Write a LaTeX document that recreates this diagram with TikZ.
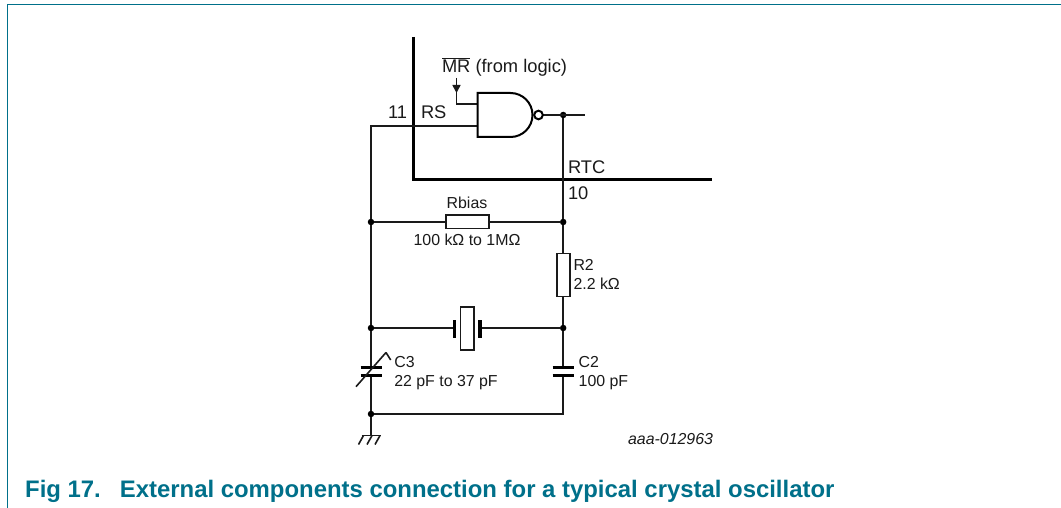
\documentclass[tikz,border=0pt]{standalone}
\usepackage{fontspec}
\setmainfont{Liberation Sans}
\usetikzlibrary{arrows.meta}
\definecolor{teal1}{HTML}{00708A}
\definecolor{ink}{HTML}{1A1A1A}
\tikzset{
  wire/.style={draw=ink,line width=1.6pt},
  thick bus/.style={draw=black,line width=2.8pt},
  comp/.style={draw=ink,line width=1.6pt,fill=white,minimum width=0pt},
  plate/.style={draw=black,line width=3.2pt},
  lbl/.style={anchor=base west,inner sep=0pt,outer sep=0pt,font=\fontsize{15.9}{18}\selectfont,text=ink},
  biglbl/.style={lbl,font=\fontsize{18.3}{20}\selectfont},
  clbl/.style={lbl,anchor=base},
  junction/.style={circle,fill=black,inner sep=0pt,minimum size=6.5pt},
}
\begin{document}
\begin{tikzpicture}[x=1pt,y=-1pt]
\useasboundingbox (0,0) rectangle (1061,508);
% frame
\coordinate (fa) at (7.4,508); \coordinate (fb) at (7.4,4.5); \coordinate (fc) at (1061,4.5);
\draw[teal1,line width=1.3pt] (fa) -- (fb) -- (fc);
% bus
\coordinate (ba) at (413.5,37); \coordinate (bb) at (413.5,179.5); \coordinate (bc) at (712,179.5);
\draw[thick bus,miter limit=10] (ba) -- (bb) -- (bc);
% junctions
\node[junction] (jo) at (563.2,115) {};
\node[junction] (jbl) at (371,222) {};
\node[junction] (jbr) at (563.2,222) {};
\node[junction] (jxl) at (371,328) {};
\node[junction] (jxr) at (563.2,328) {};
\node[junction] (jgl) at (371,414) {};
\coordinate (gbr) at (563.2,414);
\coordinate (rsw) at (371,126);
\coordinate (rse) at (477.5,126);
\coordinate (mrin) at (477.5,104);
\coordinate (mrc) at (456.5,104);
\coordinate (mrt) at (456.5,78);
\coordinate (outend) at (585,115);
\coordinate (bub) at (538.5,115);
\coordinate (gnd) at (371,435.5);
% wires
\draw[wire] (rse) -- (rsw) -- (jbl) -- (jxl) -- (jgl) -- (gnd);
\draw[wire] (jo) -- (jbr) -- (jxr) -- (gbr) -- (jgl);
\draw[wire] (bub) -- (outend);
\draw[wire,-{Triangle[length=8pt,width=8pt]}] (mrt) -- (456.5,93);
\draw[wire] (456.5,92) -- (mrc) -- (mrin);
% NAND
\draw[draw=black,line width=2pt,fill=white] (477.5,93) -- (510.5,93) arc[start angle=-90,end angle=90,radius=22] -- (477.5,137) -- cycle;
\node[circle,draw=black,line width=2pt,fill=white,inner sep=0pt,minimum size=8.6pt] (bubble) at (bub) {};
% Rbias
\draw[wire] (jbl) -- (jbr);
\node[comp,draw,minimum width=43pt,minimum height=13pt,inner sep=0pt] (rb) at (467.2,221.8) {};
% R2
\node[comp,draw,minimum width=13pt,minimum height=43pt,inner sep=0pt] (r2) at (563.2,275) {};
% crystal
\draw[wire] (jxl) -- (454,328);
\draw[wire] (jxr) -- (480,328);
\draw[plate] (454.3,320) -- (454.3,337.5);
\draw[plate] (480,320) -- (480,337.5);
\node[comp,draw,minimum width=13.5pt,minimum height=43pt,inner sep=0pt] (xt) at (467.2,328.7) {};
% C3
\fill[white] (358,368.5) rectangle (385,374.5);
\draw[plate] (360.5,367.3) -- (382,367.3);
\draw[plate] (360.5,375.5) -- (382,375.5);
\coordinate (ca) at (356,386.7); \coordinate (cb) at (386,352.5);
\draw[wire] (ca) -- (cb);
\coordinate (tb) at (390.7,360);
\draw[wire] (cb) -- (tb);
% C2
\fill[white] (550,368.5) rectangle (577,374.5);
\draw[plate] (552.5,367.3) -- (574,367.3);
\draw[plate] (552.5,375.5) -- (574,375.5);
% ground
\coordinate (ga) at (361.5,435.5); \coordinate (gb) at (380.7,435.5);
\draw[wire] (ga) -- (gb);
\draw[wire] (363.5,435.5) -- (358.5,444.5);
\draw[wire] (372,435.5) -- (367,444.5);
\draw[wire] (380,435.5) -- (375,444.5);
% labels
\node[biglbl] (tmr) at (442,72.5) {$\overline{\hbox{MR}}$ (from logic)};
\node[biglbl] (t11) at (388,119) {11};
\node[biglbl] (trs) at (421,119) {RS};
\node[biglbl] (trtc) at (568,173.8) {RTC};
\node[biglbl] (t10) at (568,199.5) {10};
\node[clbl] (trb) at (467,208.5) {Rbias};
\node[clbl] (tbv) at (467,245) {100 kΩ to 1MΩ};
\node[lbl] (tr2) at (573.5,270.5) {R2};
\node[lbl] (tr2v) at (573.5,289.5) {2.2 kΩ};
\node[lbl] (tc3) at (394.3,367) {C3};
\node[lbl] (tc3v) at (394.3,386) {22 pF to 37 pF};
\node[lbl] (tc2) at (578.7,367) {C2};
\node[lbl] (tc2v) at (578.7,386) {100 pF};
\node[lbl,anchor=base east,font=\fontsize{15.9}{18}\selectfont\itshape] (tid) at (713,444) {aaa-012963};
\node[anchor=base west,inner sep=0pt,text=teal1,font=\fontsize{23.9}{28}\selectfont\bfseries] (cap) at (25,497) {Fig 17.\hspace{19pt}External components connection for a typical crystal oscillator};
\end{tikzpicture}
\end{document}
